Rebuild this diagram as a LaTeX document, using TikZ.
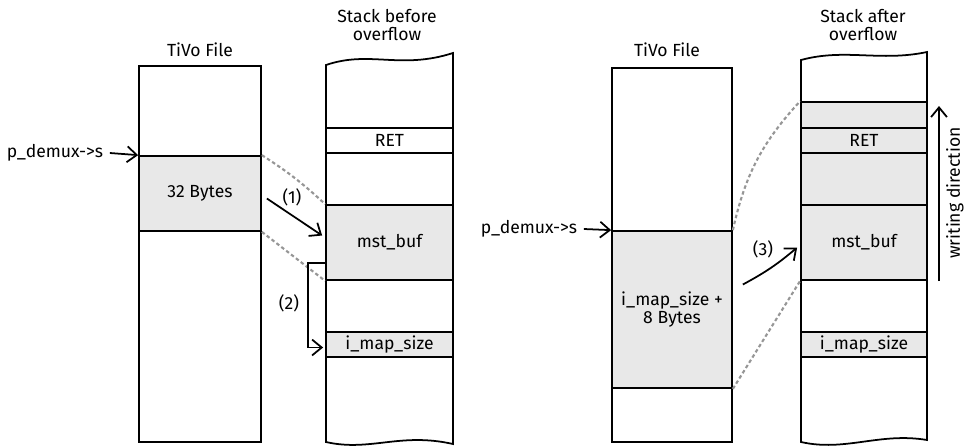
\documentclass[tikz,border=0pt]{standalone}
\usepackage{fontspec}
\setmainfont{Fira Sans}
\usetikzlibrary{arrows.meta,calc}
\definecolor{bandgray}{RGB}{232,232,232}
\definecolor{dashgray}{RGB}{150,150,150}

\begin{document}
\begin{tikzpicture}[x=0.02cm,y=-0.02cm,line width=1pt,font=\fontsize{10}{10.5}\selectfont,
    box/.style ={draw, line width=1pt, inner sep=0pt},
    cell/.style ={draw, line width=1pt, inner sep=0pt, minimum height=0.5cm},
    shaded/.style ={fill=bandgray},
    title/.style ={align=center},
    arr/.style ={-{Straight Barb[length=5.5pt,width=9pt]}, line width=1pt},
    trace/.style ={dashgray, dash pattern=on 2pt off 1.5pt, line width=1.2pt}]
 \useasboundingbox (0,0) rectangle (966,447);

 % before overflow
 \node[title] (fileAt) at (200,50) {TiVo File};
 \node[box, minimum width=2.44cm, minimum height=7.52cm] (fileA) at (200,254) {};
 \node[box, shaded, minimum width=2.44cm, minimum height=1.5cm] (bytesA) at (200,193.5) {32 Bytes};

 \node[title] (stackAt) at (387,25) {Stack before\\overflow};
 \node[cell, minimum width=2.54cm] (retA) at (389.5,140.5) {RET};
 \node[cell, shaded, minimum width=2.54cm, minimum height=1.5cm] (bufA) at (389.5,242.5) {mst\_buf};
 \node[cell, shaded, minimum width=2.54cm] (sizeA) at (389.5,344.5) {i\_map\_size};
 \draw (326,65) .. controls (370,50) and (400,70) .. (453,53) -- (453,444)
    .. controls (400,432) and (370,452) .. (326,442) -- cycle;

 \node (ptrA) at (55,153) {p\_demux->s};
 \draw[arr] (ptrA.east) -- (bytesA.north west);

 \draw[trace] (bytesA.north east) to[bend left=5] (bufA.north west);
 \draw[trace] (bytesA.south east) -- (bufA.south west);

 \draw[arr] ($(bytesA.east)+(5,5)$) -- ($(bufA.west)+(-3,-7)$);
 \node (lab1) at (292,197) {(1)};
 \draw[arr] ($(bufA.south west)+(0,-18)$) -- ++(-17,0) |- ($(sizeA.west)+(-2,3)$);
 \node (lab2) at (289,303) {(2)};

 % after overflow
 \node[title] (fileBt) at (667,50) {TiVo File};
 \node[box, minimum width=2.4cm, minimum height=7.48cm] (fileB) at (672,255) {};
 \node[box, shaded, minimum width=2.4cm, minimum height=3.14cm, align=center] (bytesB) at (672,309.5) {i\_map\_size +\\8 Bytes};

 \node[title] (stackBt) at (863,25) {Stack after\\overflow};
 \node[cell, shaded, minimum width=2.52cm, minimum height=0.52cm] (padB) at (864,115) {};
 \node[cell, shaded, minimum width=2.52cm] (retB) at (864,140.5) {RET};
 \node[cell, shaded, minimum width=2.52cm, minimum height=1.04cm] (gapB) at (864,179) {};
 \node[cell, shaded, minimum width=2.52cm, minimum height=1.5cm] (bufB) at (864,242.5) {mst\_buf};
 \node[cell, shaded, minimum width=2.52cm] (sizeB) at (864,344.5) {i\_map\_size};
 \draw (801,60) .. controls (845,48) and (880,62) .. (927,52) -- (927,440)
    .. controls (880,432) and (845,452) .. (801,442) -- cycle;

 \node (ptrB) at (529,229) {p\_demux->s};
 \draw[arr] (ptrB.east) -- (bytesB.north west);

 \draw[trace] (bytesB.north east) to[bend left=15] (padB.north west);
 \draw[trace] (bytesB.south east) -- (bufB.south west);

 \draw[arr] ($(bytesB.east)+(10,-25)$) to[bend right=6] ($(bufB.west)+(-3,5)$);
 \node (lab3) at (763,249) {(3)};

 \coordinate (wdS) at (939,281);
 \coordinate (wdE) at (939,106);
 \draw[arr] (wdS) -- (wdE);
 \node[rotate=90] (wdir) at (955,193) {writing direction};
\end{tikzpicture}
\end{document}
